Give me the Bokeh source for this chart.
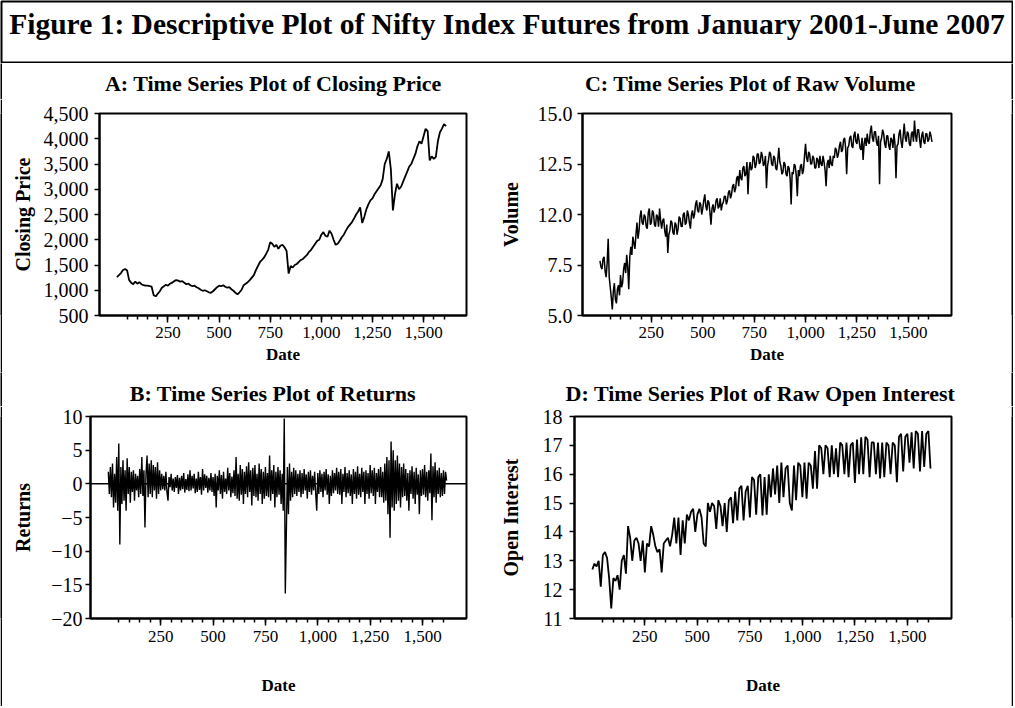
import numpy as np
from bokeh.plotting import figure
from bokeh.layouts import row, column
from bokeh.models import FixedTicker, Span, Range1d
from bokeh.embed import file_html
from bokeh.resources import INLINE
from bokeh.core.properties import value

FONT = "Liberation Serif"

main_title = "Figure 1: Descriptive Plot of Nifty Index Futures from January 2001-June 2007"
title_a = "A: Time Series Plot of Closing Price"
title_b = "B: Time Series Plot of Returns"
title_c = "C: Time Series Plot of Raw Volume"
title_d = "D: Time Series Plot of Raw Open Interest"

x_major = [250, 500, 750, 1000, 1250, 1500]
x_major_labels = ["250", "500", "750", "1,000", "1,250", "1,500"]
x_minor = list(range(50, 1601, 50))

price_ticks = [500, 1000, 1500, 2000, 2500, 3000, 3500, 4000, 4500]
price_labels = ["500", "1,000", "1,500", "2,000", "2,500", "3,000", "3,500", "4,000", "4,500"]
ret_ticks = [-20, -15, -10, -5, 0, 5, 10]
ret_labels = ["\u221220", "\u221215", "\u221210", "\u22125", "0", "5", "10"]
vol_ticks = [5.0, 7.5, 10.0, 12.5, 15.0]
vol_labels = ["5.0", "7.5", "12.0", "12.5", "15.0"]
oi_ticks = [11, 12, 13, 14, 15, 16, 17, 18]
oi_labels = ["11", "12", "13", "14", "15", "16", "17", "18"]

# Closing price, one reading every 10 days
price_step = 10
closing_price = [
    1260, 1300, 1340, 1400, 1420, 1390, 1200, 1150, 1120, 1170,
    1130, 1160, 1120, 1100, 1090, 1090, 1080, 1070, 900, 880,
    930, 980, 1050, 1080, 1110, 1090, 1130, 1150, 1180, 1200,
    1190, 1170, 1180, 1150, 1120, 1130, 1100, 1080, 1090, 1060,
    1040, 1010, 990, 1000, 980, 960, 950, 980, 1020, 1060,
    1090, 1080, 1100, 1070, 1050, 1060, 1020, 990, 950, 920,
    960, 1010, 1100, 1130, 1160, 1200, 1250, 1300, 1400, 1480,
    1560, 1600, 1650, 1720, 1800, 1950, 1920, 1860, 1900, 1820,
    1880, 1900, 1850, 1780, 1330, 1480, 1450, 1500, 1520, 1560,
    1600, 1620, 1660, 1700, 1760, 1800, 1860, 1920, 1980, 2000,
    2100, 2150, 2080, 2060, 2180, 2120, 2000, 1900, 1920, 1980,
    2050, 2100, 2180, 2250, 2300, 2350, 2420, 2500, 2560, 2640,
    2330, 2450, 2600, 2700, 2780, 2820, 2900, 2960, 3020, 3080,
    3200, 3500, 3600, 3750, 3400, 2580, 2900, 3110, 3000, 3050,
    3150, 3250, 3350, 3450, 3500, 3600, 3700, 3850, 3950, 3900,
    4050, 4196, 4150, 3570, 3650, 3600, 3640, 3950, 4130, 4200,
    4290, 4250,
]

# Returns, one reading every 5 days
ret_step = 5
returns = [
    1.8, -1.5, 2.5, -2.0, 3.0, -3.5, 1.5, -2.8, 4.0, -4.0, 6.0, -9.0, 2.5, -3.0, 3.5, -2.5, 2.0, -4.0, 3.8, -1.5,
    2.5, -2.8, 1.8, -1.2, 2.0, -2.5, 1.5, -1.0, 1.2, -2.0, 2.2, -1.5, 4.0, -1.8, 2.0, -6.5, 1.5, 4.2, -2.0, 3.0,
    -1.5, 3.5, -2.0, 2.8, -1.0, 2.5, -2.2, 3.2, -1.5, 2.0, -1.0, 1.5, -0.8, 1.2, -1.0, 1.8, -1.2, -2.5, 1.0, -0.5,
    1.5, -1.0, 0.8, -1.2, 1.0, -0.6, 1.3, -1.5, 0.9, -1.0, 1.2, -0.8, 1.6, -1.3, 0.7, -0.9, 1.4, -1.1, 2.0, -1.0,
    1.2, -0.7, 1.5, -1.4, 0.8, -1.2, 1.8, -0.9, 1.0, -1.6, 2.2, -1.0, 1.4, -0.6, 1.2, -1.3, 0.9, -1.0, 1.6, -1.2,
    1.0, -1.8, 1.5, -3.5, 1.2, -1.0, 2.0, -1.5, 1.3, -2.2, 1.8, -1.2, 0.8, -1.5, 2.4, -1.0, 1.6, -2.0, 1.1, -1.4,
    2.0, -1.8, 4.0, -2.2, 1.5, -2.5, 2.8, -1.6, 2.2, -3.0, 1.8, -1.5, 2.6, -2.0, 3.2, -1.2, 2.0, -3.2, 2.4, -1.8,
    2.8, -2.0, 1.5, -2.5, 3.0, -1.5, 2.2, -3.0, 1.8, -2.2, 2.5, -1.8, 1.6, -2.0, 4.2, -2.5, 2.0, -1.5, 2.8, -3.5,
    1.8, -2.0, 2.5, -1.6, 2.0, -3.0, 1.5, -4.0, 9.7, -16.3, -7.0, 2.5, -4.5, 3.0, -2.5, 1.8, -2.0, 2.4, -1.5, 2.0,
    -1.8, 1.5, -1.2, 2.0, -2.0, 1.6, -1.5, 2.2, -1.0, 1.4, -2.2, 1.8, -1.2, 2.0, -1.6, 1.2, -1.0, 1.8, -1.4, -4.0,
    1.6, -1.5, 2.0, -1.2, 1.5, -2.0, 1.8, -1.0, 2.2, -1.6, 1.4, -3.0, 1.2, -1.8, 2.0, -1.4, 1.6, -1.0, 2.4, -1.5,
    1.8, -1.6, 2.2, -3.0, 1.5, -1.2, 2.5, -2.0, 1.6, -1.4, 2.0, -1.8, 1.4, -3.0, 2.2, -1.5, 1.8, -2.2, 2.6, -1.6,
    1.5, -2.0, 2.4, -1.2, 1.8, -3.0, 2.0, -1.5, 1.6, -2.2, 2.8, -1.4, 2.0, -1.8, 2.4, -3.0, 1.6, -1.2, 2.2, -2.0,
    2.5, -2.0, 1.8, -2.8, 3.0, -2.5, 4.0, -4.5, 3.5, -8.0, 6.3, -3.5, 5.0, -4.0, 3.5, -3.0, 4.2, -2.5, 3.0, -3.5,
    2.5, -2.0, 3.0, -1.8, 2.2, -2.5, 1.6, -4.0, 2.0, -1.5, 2.6, -2.2, 1.8, -3.0, 2.4, -1.6, 1.4, -4.5, 2.0, -1.8,
    2.2, -1.6, 2.8, -2.0, 1.8, -2.5, 2.0, -1.4, 4.5, -5.4, 2.6, -2.0, 3.2, -2.8, 2.0, -1.5, 2.4, -2.0, 1.6, -1.8,
    2.0, -1.5, 1.8, 0.5,
]

# Log volume, one reading every 5 days
vol_step = 5
volume = [
    7.7, 7.4, 7.3, 7.8, 7.9, 7.2, 6.9, 7.6, 8.8, 6.9, 6.4, 5.9, 5.3, 6.2, 6.6, 5.8, 5.6, 6.3, 6.5, 6.0,
    7.0, 6.4, 6.6, 7.3, 7.6, 7.1, 8.0, 7.4, 6.3, 7.9, 8.4, 8.0, 8.9, 8.6, 8.3, 9.0, 9.6, 8.8, 9.2, 9.9,
    10.2, 9.6, 9.5, 10.0, 9.9, 9.4, 9.3, 10.1, 10.3, 9.5, 9.6, 10.2, 10.1, 9.5, 9.4, 10.0, 9.9, 9.4, 10.3, 9.7,
    9.3, 9.7, 9.8, 9.2, 8.9, 9.5, 8.1, 9.0, 9.2, 9.7, 9.6, 9.1, 9.0, 9.6, 9.5, 9.0, 9.3, 9.9, 9.8, 9.4,
    9.4, 10.0, 10.1, 9.5, 9.6, 10.2, 10.0, 9.6, 9.3, 10.0, 10.2, 9.8, 10.0, 10.5, 10.7, 10.2, 10.1, 10.6, 10.5, 10.0,
    10.3, 10.7, 11.0, 10.4, 10.2, 10.7, 10.6, 10.1, 9.5, 10.3, 10.5, 10.1, 10.3, 10.7, 10.8, 10.3, 10.4, 10.8, 10.2, 10.5,
    10.6, 10.9, 10.9, 10.5, 10.7, 11.1, 11.2, 10.8, 11.0, 11.4, 11.5, 11.1, 11.3, 11.8, 11.9, 11.4, 12.2, 11.8, 11.7, 12.3,
    12.4, 11.9, 12.0, 12.6, 11.0, 12.2, 12.6, 12.2, 12.3, 12.9, 12.8, 12.3, 12.5, 13.0, 13.0, 12.5, 12.6, 13.1, 12.9, 12.4,
    12.5, 12.9, 11.3, 12.4, 12.7, 13.1, 13.0, 12.5, 12.4, 12.9, 12.8, 12.3, 12.2, 12.7, 13.3, 12.6, 12.4, 12.0, 12.1, 12.6,
    12.5, 12.0, 11.9, 12.4, 12.3, 11.8, 10.5, 12.1, 12.0, 12.5, 12.4, 11.9, 10.9, 12.2, 11.9, 12.4, 12.5, 12.0, 12.2, 12.9,
    13.5, 12.8, 12.6, 13.1, 13.0, 12.5, 12.5, 12.9, 12.8, 12.3, 12.3, 12.8, 12.7, 12.3, 12.9, 12.5, 12.4, 12.9, 12.6, 12.2,
    11.4, 12.5, 12.7, 12.3, 12.9, 12.5, 12.4, 12.9, 12.8, 13.3, 13.2, 12.8, 13.0, 13.4, 13.6, 13.1, 13.2, 13.7, 13.8, 13.3,
    12.0, 13.3, 13.4, 13.8, 13.9, 13.4, 13.3, 13.9, 14.1, 13.6, 13.5, 14.0, 13.7, 13.3, 13.2, 13.8, 12.7, 13.5, 13.8, 13.4,
    14.0, 13.6, 13.5, 14.1, 14.4, 13.8, 13.6, 14.1, 14.1, 13.6, 13.4, 13.9, 11.5, 13.6, 13.8, 14.2, 14.0, 13.5, 13.3, 13.9,
    13.9, 13.4, 13.2, 13.8, 13.7, 13.3, 14.0, 13.5, 11.8, 13.4, 13.5, 14.0, 14.2, 13.6, 13.3, 13.9, 14.5, 13.8, 13.6, 14.1,
    14.0, 13.5, 13.4, 14.0, 14.1, 13.6, 14.65, 13.9, 13.6, 14.2, 14.2, 13.7, 13.3, 13.9, 14.1, 13.6, 13.5, 14.0, 14.0, 13.6,
    13.7, 14.1, 13.9, 13.6,
]

# Log open interest, one reading every 10 days
oi_step = 10
open_interest = [
    12.7, 12.9, 12.8, 13.0, 12.1, 13.2, 13.3, 13.1, 12.4, 11.35,
    12.4, 12.3, 12.5, 12.0, 13.0, 13.2, 12.55, 14.2, 13.8, 13.0,
    13.7, 13.8, 13.6, 13.0, 13.7, 12.6, 13.6, 13.5, 14.2, 13.9,
    13.5, 13.3, 13.4, 12.6, 13.6, 13.7, 13.8, 13.5, 13.9, 14.5,
    13.6, 14.5, 13.2, 14.4, 13.6, 14.6, 14.4, 14.7, 14.8, 14.0,
    14.6, 14.8, 14.5, 13.6, 13.5, 15.0, 14.7, 15.0, 14.9, 14.1,
    15.1, 14.9, 14.2, 15.0, 14.0, 15.1, 15.2, 14.3, 15.4, 14.4,
    15.5, 15.6, 14.4, 15.4, 15.6, 14.5, 15.9, 15.8, 14.6, 15.9,
    16.0, 14.57, 15.9, 14.6, 16.0, 15.2, 16.2, 15.3, 16.3, 15.0,
    16.4, 15.2, 16.2, 16.3, 15.0, 14.74, 16.3, 15.1, 16.4, 16.3,
    15.2, 16.4, 15.15, 16.4, 16.3, 15.5, 16.8, 15.5, 17.0, 16.9,
    16.0, 17.0, 16.9, 15.9, 17.0, 16.0, 16.9, 15.9, 17.1, 17.0,
    16.0, 17.1, 15.9, 17.0, 17.1, 15.7, 17.2, 16.0, 17.28, 16.0,
    17.3, 17.2, 15.9, 17.1, 17.1, 16.0, 17.1, 15.85, 17.1, 15.9,
    17.1, 17.0, 16.0, 17.1, 17.0, 15.72, 17.3, 17.4, 16.1, 17.3,
    17.4, 16.4, 17.45, 16.2, 17.5, 17.4, 16.1, 17.5, 16.25, 17.4,
    17.5, 16.2,
]

X_RANGE = (-85, 1710)

HEAD_H = 63
STRIP1_H = 36
ROW1_H = 273
STRIP2_H = 34
ROW2_H = 300
LEFT_W = 488
RIGHT_W = 521


def make_panel(width, height, left, right, top, bottom, ylabel, yrange,
               yticks, ylabels, y_label_standoff, y_tick_standoff,
               x_tick_standoff, x_label_standoff):
    p = figure(width=width, height=height, x_range=Range1d(*X_RANGE),
               y_range=Range1d(*yrange), toolbar_location=None,
               output_backend="svg", min_border_left=left,
               min_border_right=right, min_border_top=top,
               min_border_bottom=bottom)
    p.title.text = ""
    p.title.standoff = 0
    p.grid.visible = False
    p.outline_line_color = "black"
    p.outline_line_width = 2
    p.outline_line_alpha = 1.0
    p.background_fill_color = "white"
    p.border_fill_color = "white"

    xa = p.xaxis[0]
    xa.ticker = FixedTicker(ticks=x_major, minor_ticks=x_minor)
    xa.major_label_overrides = dict(zip(x_major, x_major_labels))
    xa.axis_label = "Date"
    xa.axis_label_standoff = x_label_standoff
    xa.major_tick_out = 7
    xa.major_tick_in = 0
    xa.minor_tick_out = 4
    xa.minor_tick_in = 0
    xa.major_label_standoff = x_tick_standoff
    xa.major_label_text_font_size = "17px"
    xa.axis_label_text_font_size = "17px"

    ya = p.yaxis[0]
    ya.ticker = FixedTicker(ticks=yticks, minor_ticks=[])
    ya.major_label_overrides = dict(zip(yticks, ylabels))
    ya.axis_label = ylabel
    ya.axis_label_standoff = y_label_standoff
    ya.major_tick_out = 5
    ya.major_tick_in = 0
    ya.major_label_standoff = y_tick_standoff
    ya.major_label_text_font_size = "20px"
    ya.axis_label_text_font_size = "20px"

    for ax in (xa, ya):
        ax.axis_line_width = 2
        ax.axis_line_color = "black"
        ax.major_tick_line_width = 1.5
        ax.major_tick_line_color = "black"
        ax.minor_tick_line_width = 1.5
        ax.major_label_text_font = FONT
        ax.major_label_text_color = "black"
        ax.axis_label_text_font = FONT
        ax.axis_label_text_font_style = "bold"
        ax.axis_label_text_color = "black"
    xa.minor_tick_line_color = "black"
    ya.minor_tick_line_color = None
    return p


def text_strip(width, height, text, fx, fy, size):
    f = figure(width=width, height=height, x_range=Range1d(0, 1),
               y_range=Range1d(0, 1), toolbar_location=None,
               output_backend="svg", min_border=0, x_axis_type=None,
               y_axis_type=None, outline_line_color=None)
    f.grid.visible = False
    f.text(x=[fx], y=[fy], text=[text], text_align="center",
           text_baseline="middle", text_font=value(FONT),
           text_font_size=size, text_font_style="bold", text_color="black")
    return f


def border_bar(height):
    f = figure(width=2, height=height, toolbar_location=None,
               output_backend="svg", min_border=0, x_axis_type=None,
               y_axis_type=None, background_fill_color="black",
               border_fill_color="black", outline_line_color=None)
    f.grid.visible = False
    return f


pA = make_panel(LEFT_W, ROW1_H, 97, 24, 14, 57, "Closing Price",
                (500, 4500), price_ticks, price_labels, 7, 6, 4, 4)
pA.line(np.arange(len(closing_price)) * price_step, closing_price,
        line_color="black", line_width=1.8)

pC = make_panel(RIGHT_W, ROW1_H, 92, 60, 14, 57, "Volume",
                (5, 15), vol_ticks, vol_labels, 13, 5, 4, 4)
pC.line(np.arange(len(volume)) * vol_step, volume,
        line_color="black", line_width=1.5)

pB = make_panel(LEFT_W, ROW2_H, 88, 24, 10, ROW2_H - 212, "Returns",
                (-20, 10), ret_ticks, ret_labels, 14, 3, 5, 31)
pB.add_layout(Span(location=0, dimension="width", line_color="black",
                   line_width=1.5))
pB.line(np.arange(len(returns)) * ret_step, returns,
        line_color="black", line_width=1.4)

pD = make_panel(RIGHT_W, ROW2_H, 84, 60, 10, ROW2_H - 212, "Open Interest",
                (11, 18), oi_ticks, oi_labels, 18, 7, 5, 31)
pD.line(np.arange(len(open_interest)) * oi_step, open_interest,
        line_color="black", line_width=1.8)

tA = text_strip(LEFT_W, STRIP1_H, title_a, 0.555, 0.45, "22px")
tC = text_strip(RIGHT_W, STRIP1_H, title_c, 0.499, 0.45, "22px")
tB = text_strip(LEFT_W, STRIP2_H, title_b, 0.554, 0.39, "22px")
tD = text_strip(RIGHT_W, STRIP2_H, title_d, 0.518, 0.39, "22px")

header = figure(width=2 + LEFT_W + RIGHT_W + 2, height=HEAD_H,
                x_range=Range1d(0, 1), y_range=Range1d(0, 1),
                toolbar_location=None, output_backend="svg", min_border=1,
                x_axis_type=None, y_axis_type=None)
header.grid.visible = False
header.outline_line_color = "black"
header.outline_line_width = 2
header.text(x=[0.5], y=[0.634], text=[main_title], text_align="center",
            text_baseline="middle", text_font=value(FONT),
            text_font_size="29.5px", text_font_style="bold",
            text_color="black")

layout = column(
    header,
    row(border_bar(STRIP1_H), tA, tC, border_bar(STRIP1_H)),
    row(border_bar(ROW1_H), pA, pC, border_bar(ROW1_H)),
    row(border_bar(STRIP2_H), tB, tD, border_bar(STRIP2_H)),
    row(border_bar(ROW2_H), pB, pD, border_bar(ROW2_H)),
)

open("out.html", "w").write(file_html(layout, INLINE))
